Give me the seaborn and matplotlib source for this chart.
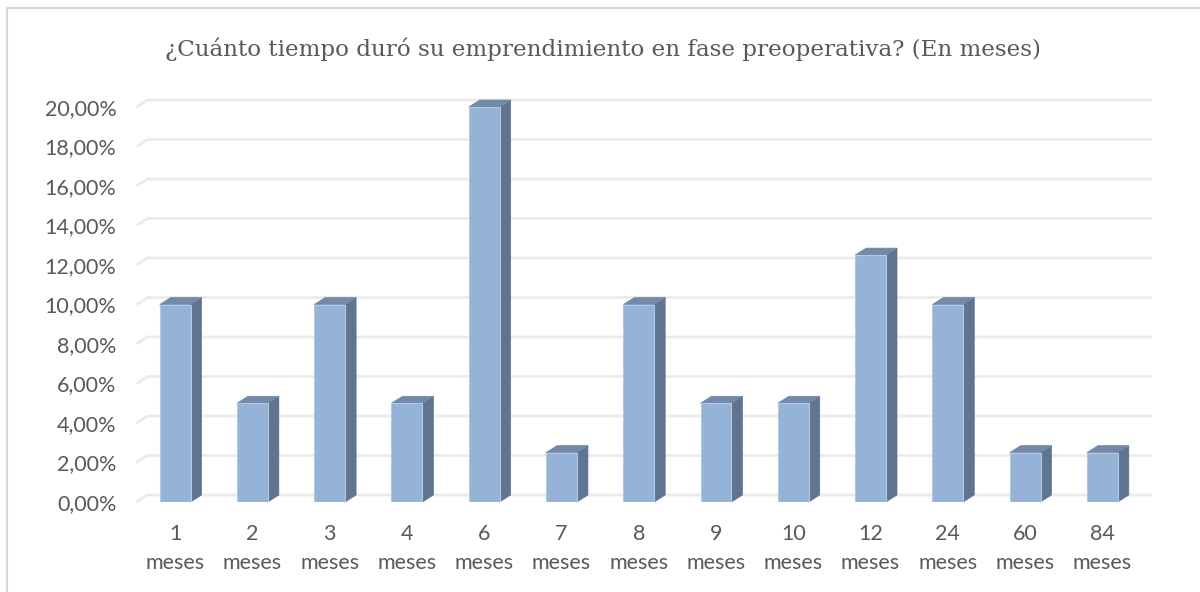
import matplotlib
matplotlib.use("Agg")
import matplotlib.pyplot as plt
from matplotlib.patches import Polygon, Rectangle
from matplotlib.ticker import FuncFormatter, MultipleLocator
import seaborn as sns

# Survey: months spent in the pre-operative phase
months = [1, 2, 3, 4, 6, 7, 8, 9, 10, 12, 24, 60, 84]
labels = [f"{m}\nmeses" for m in months]
percent = [10.0, 5.0, 10.0, 5.0, 20.0, 2.5, 10.0, 5.0, 5.0, 12.5, 10.0, 2.5, 2.5]
title = "¿Cuánto tiempo duró su emprendimiento en fase preoperativa? (En meses)"

FRONT = "#95B3D7"
SIDE = "#5F7491"
TOP = "#7289A9"
GRID = "#EBEBEB"
TEXT = "#595959"

sns.set_theme(style="white")
plt.rcParams["font.family"] = ["Lato", "DejaVu Sans"]

W, H, DPI = 1200, 592, 100
fig = plt.figure(figsize=(W / DPI, H / DPI), dpi=DPI)
fig.patch.set_facecolor("white")

# front plane of the 3-D columns
left_px, right_px, bottom_px, top_px = 136.5, 1141.0, 502.0, 107.0
ax = fig.add_axes([left_px / W, (H - bottom_px) / H,
                   (right_px - left_px) / W, (bottom_px - top_px) / H])
ax.set_facecolor("none")

sns.barplot(x=labels, y=percent, color=FRONT, saturation=1, width=0.40,
            edgecolor="#B4C8E1", linewidth=0.8, ax=ax, zorder=3)

ax.set_xlim(-0.5, len(months) - 0.5)
ax.set_ylim(0, 20)
ax.yaxis.set_major_locator(MultipleLocator(2))
ax.yaxis.set_major_formatter(FuncFormatter(lambda v, _: f"{v:.2f}%".replace(".", ",")))
for s in ax.spines.values():
    s.set_visible(False)
ax.set_xlabel("")
ax.set_ylabel("")
ax.tick_params(axis="both", length=0, labelsize=15.5, colors=TEXT)
ax.tick_params(axis="y", pad=14.5)
ax.tick_params(axis="x", pad=16)
for t in ax.get_xticklabels():
    t.set_linespacing(1.55)
for t in ax.get_yticklabels():
    t.set_verticalalignment("center_baseline")

# depth of the columns, in data units (11 px right, 7 px up)
depth_x_px, depth_y_px = 11.0, 7.0
bb = ax.get_position()
ax_w_px, ax_h_px = bb.width * W, bb.height * H
x0, x1 = ax.get_xlim()
y0, y1 = ax.get_ylim()
dx = depth_x_px * (x1 - x0) / ax_w_px
dy = depth_y_px * (y1 - y0) / ax_h_px

# back-wall gridlines with a slanted floor stub on the left
for v in ax.get_yticks():
    if v < y0 - 1e-9 or v > y1 + 1e-9:
        continue
    ax.plot([x0, x0 + dx, x1 + dx], [v, v + dy, v + dy], color=GRID, lw=2.0,
            zorder=1, clip_on=False, solid_capstyle="butt")

# side and top faces of each column
for bar in list(ax.patches):
    bx, bw, bh = bar.get_x(), bar.get_width(), bar.get_height()
    side = Polygon([(bx + bw, 0), (bx + bw + dx, dy), (bx + bw + dx, bh + dy), (bx + bw, bh)],
                   closed=True, facecolor=SIDE, edgecolor=SIDE, lw=0.5, zorder=2.5, clip_on=False)
    top = Polygon([(bx, bh), (bx + bw, bh), (bx + bw + dx, bh + dy), (bx + dx, bh + dy)],
                  closed=True, facecolor=TOP, edgecolor=TOP, lw=0.5, zorder=2.5, clip_on=False)
    ax.add_patch(side)
    ax.add_patch(top)

fig.text(603 / W, 1 - 49 / H, title, ha="center", va="center", fontsize=16.6,
         color=TEXT, family=["DejaVu Serif", "Liberation Serif"])

# chart-area border
fig.add_artist(Rectangle((7 / W, -0.1), 1.2, 1.1 - 8 / H, transform=fig.transFigure,
                         fill=False, edgecolor="#D9D9D9", lw=1.5, zorder=0))

fig.savefig("out.png", dpi=DPI, facecolor="white")
